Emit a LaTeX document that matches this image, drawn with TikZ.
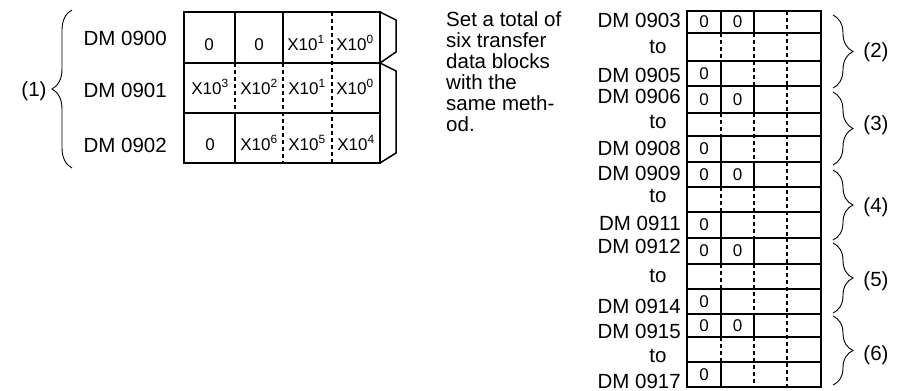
\documentclass[tikz,border=0pt]{standalone}
\usepackage{fontspec}
\setmainfont{Liberation Sans}
\usetikzlibrary{decorations.pathreplacing}
\begin{document}
\begin{tikzpicture}[x=1pt,y=-1pt,
  lbl/.style={font=\fontsize{20.5}{20.8}\selectfont, inner sep=0pt},
  cell/.style={font=\fontsize{17}{18}\selectfont, inner sep=0pt, anchor=base},
  rcell/.style={font=\fontsize{17}{18}\selectfont, inner sep=0pt, anchor=center},
  frame/.style={line width=1.5pt},
  sep/.style={line width=1.1pt},
  dsep/.style={line width=1.1pt, dash pattern=on 4pt off 3pt},
  brc/.style={decorate, decoration={brace, amplitude=20pt}, line width=0.9pt}]
\useasboundingbox (0,0) rectangle (900,391);
% ---------- left table ----------
\draw[frame] (184,12) rectangle (380,163);
\draw[sep] (184,63) -- (380,63) (184,113) -- (380,113);
\draw[sep] (235,12) -- (235,63) (283,12) -- (283,63) (235,113) -- (235,163);
\draw[dsep] (332,12) -- (332,163) (235,63) -- (235,113) (283,63) -- (283,163);
\draw[frame, line join=miter] (380,12) -- (396,20) -- (396,52) -- (380,63) -- (396,71) -- (396,153) -- (380,163);
% cell texts
\node[cell] (c00) at (209,50) {0};
\node[cell] (c01) at (259,50) {0};
\node[cell] (c02) at (306,50) {X10\textsuperscript{1}};
\node[cell] (c03) at (355,50) {X10\textsuperscript{0}};
\node[cell] (c10) at (210,94) {X10\textsuperscript{3}};
\node[cell] (c11) at (259,94) {X10\textsuperscript{2}};
\node[cell] (c12) at (307,94) {X10\textsuperscript{1}};
\node[cell] (c13) at (355,94) {X10\textsuperscript{0}};
\node[cell] (c20) at (210,150) {0};
\node[cell] (c21) at (259,150) {X10\textsuperscript{6}};
\node[cell] (c22) at (307,150) {X10\textsuperscript{5}};
\node[cell] (c23) at (356,150) {X10\textsuperscript{4}};
% labels
\node[lbl, anchor=base east] (l900) at (167,45) {DM 0900};
\node[lbl, anchor=base east] (l901) at (167,97) {DM 0901};
\node[lbl, anchor=base east] (l902) at (167,152) {DM 0902};
\draw[brc] (72,168) -- (72,10);
\node[lbl, anchor=center] (g1) at (34,91) {(1)};
% ---------- text ----------
\node[lbl, anchor=base west] (txt) at (446,26) {\begin{tabular}[t]{@{}l@{}}Set a total of\\six transfer\\data blocks\\with the\\same meth-\\od.\end{tabular}};
% ---------- right table ----------
\foreach \a/\b/\c/\d in {11/33/61/86, 86/113/136/162, 162/187/212/238, 238/264/289/314, 314/337/362/387}{
  \draw[frame] (687,\a) rectangle (821,\d);
  \draw[sep] (687,\b) -- (821,\b) (687,\c) -- (821,\c);
  \draw[sep] (721,\a) -- (721,\b) (754,\a) -- (754,\b) (721,\c) -- (721,\d);
  \draw[dsep] (787,\a) -- (787,\d) (721,\b) -- (721,\c) (754,\b) -- (754,\d);
  \node[rcell] at (704,{(\a+\b)/2}) {0};
  \node[rcell] at (737.5,{(\a+\b)/2}) {0};
  \node[rcell] at (704,{(\c+\d)/2}) {0};
}
% right labels
\node[lbl, anchor=base east] (r903) at (681,27) {DM 0903};
\node[lbl, anchor=base] (t2) at (658,53) {to};
\node[lbl, anchor=base east] (r905) at (681,82) {DM 0905};
\node[lbl, anchor=base east] (r906) at (681,103) {DM 0906};
\node[lbl, anchor=base] (t3) at (658,128) {to};
\node[lbl, anchor=base east] (r908) at (681,155) {DM 0908};
\node[lbl, anchor=base east] (r909) at (681,180) {DM 0909};
\node[lbl, anchor=base] (t4) at (658,202) {to};
\node[lbl, anchor=base east] (r911) at (681,230) {DM 0911};
\node[lbl, anchor=base east] (r912) at (681,253) {DM 0912};
\node[lbl, anchor=base] (t5) at (658,282) {to};
\node[lbl, anchor=base east] (r914) at (681,313) {DM 0914};
\node[lbl, anchor=base east] (r915) at (681,338) {DM 0915};
\node[lbl, anchor=base] (t6) at (658,362) {to};
\node[lbl, anchor=base east] (r917) at (681,388) {DM 0917};
% right braces
\draw[brc] (833,15) -- (833,88);
\draw[brc] (833,92) -- (833,165);
\draw[brc] (833,170) -- (833,240);
\draw[brc] (833,243) -- (833,313);
\draw[brc] (833,316) -- (833,385);
\node[lbl, anchor=center] (g2) at (876,52) {(2)};
\node[lbl, anchor=center] (g3) at (876,125) {(3)};
\node[lbl, anchor=center] (g4) at (876,207) {(4)};
\node[lbl, anchor=center] (g5) at (876,281) {(5)};
\node[lbl, anchor=center] (g6) at (876,355) {(6)};
\end{tikzpicture}
\end{document}
